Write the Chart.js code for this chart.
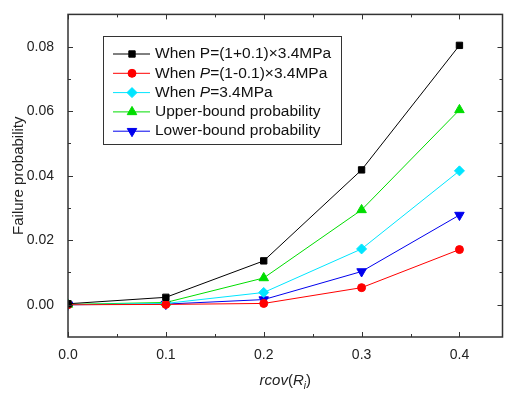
<!DOCTYPE html>
<html>
<head>
<meta charset="utf-8">
<script src="https://cdn.jsdelivr.net/npm/chart.js@4/dist/chart.umd.min.js"></script>
<style>
  body { margin: 0; background: #fff; }
  #wrap { width: 509px; height: 393px; }
</style>
</head>
<body>
<div id="wrap"><canvas id="myChart" width="509" height="393"></canvas></div>
<script>
// rcov(R_i) values on x
var rcov = [0.0, 0.1, 0.2, 0.3, 0.4];

// failure probability series
var pHigh = [0.0003, 0.0023, 0.0136, 0.0418, 0.0804];
var pLow = [0.0000, 0.0001, 0.0004, 0.0053, 0.0171];
var pMid = [0.0000, 0.0004, 0.0038, 0.0173, 0.0415];
var upperBound = [0.0001, 0.0007, 0.0083, 0.0294, 0.0604];
var lowerBound = [0.0000, 0.0002, 0.0016, 0.0103, 0.0278];

// legend names, *x* = italic
var seriesNames = [
  "When P=(1+0.1)\u00d73.4MPa",
  "When *P*=(1-0.1)\u00d73.4MPa",
  "When *P*=3.4MPa",
  "Upper-bound probability",
  "Lower-bound probability"
];

var xTicks = [0.0, 0.1, 0.2, 0.3, 0.4];
var yTicks = [0.00, 0.02, 0.04, 0.06, 0.08];

function pts(ys) {
  return rcov.map(function (x, i) { return { x: x, y: ys[i] }; });
}

function makeSet(name, ys, color, style, radius, rotation) {
  return {
    label: name,
    data: pts(ys),
    borderColor: color,
    backgroundColor: color,
    borderWidth: 1,
    pointStyle: style,
    pointRadius: radius,
    pointRotation: rotation || 0,
    pointBorderWidth: 1,
    tension: 0
  };
}

var FONT = "Arial, 'Liberation Sans', sans-serif";

// frame, inward ticks, axis titles and the boxed legend
var decorPlugin = {
  id: "decor",
  afterDraw: function (chart) {
    var ctx = chart.ctx;
    var a = chart.chartArea;
    var xs = chart.scales.x, ys = chart.scales.y;
    ctx.save();
    ctx.strokeStyle = "#333";
    ctx.lineWidth = 1.5;
    ctx.strokeRect(a.left, a.top, a.right - a.left, a.bottom - a.top);

    ctx.lineWidth = 1;
    var v, px, len;
    for (v = 0; v <= 0.44; v += 0.05) {
      px = Math.round(xs.getPixelForValue(v)) + 0.5;
      len = (Math.round(v * 100) % 10 === 0) ? 5 : 3;
      ctx.beginPath();
      ctx.moveTo(px, a.bottom); ctx.lineTo(px, a.bottom - len);
      ctx.moveTo(px, a.top); ctx.lineTo(px, a.top + len);
      ctx.stroke();
    }
    for (v = 0; v <= 0.0895; v += 0.01) {
      px = Math.round(ys.getPixelForValue(v)) + 0.5;
      len = (Math.round(v * 100) % 2 === 0) ? 5 : 3;
      ctx.beginPath();
      ctx.moveTo(a.left, px); ctx.lineTo(a.left + len, px);
      ctx.moveTo(a.right, px); ctx.lineTo(a.right - len, px);
      ctx.stroke();
    }

    // y title
    ctx.fillStyle = "#222";
    ctx.font = "15px " + FONT;
    ctx.textAlign = "center";
    ctx.textBaseline = "middle";
    ctx.save();
    ctx.translate(19, (a.top + a.bottom) / 2);
    ctx.rotate(-Math.PI / 2);
    ctx.fillText("Failure probability", 0, 0);
    ctx.restore();

    // x title: rcov(R_i)
    var parts = [["rcov", "italic 15px "], ["(", "15px "], ["R", "italic 15px "], ["i", "italic 10px "], [")", "15px "]];
    var total = 0;
    parts.forEach(function (p) { ctx.font = p[1] + FONT; total += ctx.measureText(p[0]).width; });
    var cx = (a.left + a.right) / 2 - total / 2;
    ctx.textAlign = "left";
    ctx.textBaseline = "alphabetic";
    parts.forEach(function (p) {
      ctx.font = p[1] + FONT;
      ctx.fillText(p[0], cx, p[0] === "i" ? 389 : 385);
      cx += ctx.measureText(p[0]).width;
    });

    // legend
    var lx = 103, ly = 36, lw = 238, lh = 108;
    ctx.fillStyle = "#fff";
    ctx.fillRect(lx, ly, lw, lh);
    ctx.strokeStyle = "#333";
    ctx.lineWidth = 1;
    ctx.strokeRect(lx + 0.5, ly + 0.5, lw, lh);
    chart.data.datasets.forEach(function (ds, i) {
      var yy = ly + 18 + i * 19.3;
      ctx.strokeStyle = ds.borderColor;
      ctx.lineWidth = 1;
      ctx.beginPath();
      ctx.moveTo(lx + 10, yy); ctx.lineTo(lx + 47, yy);
      ctx.stroke();
      ctx.fillStyle = ds.backgroundColor;
      Chart.helpers.drawPoint(ctx, {
        pointStyle: ds.pointStyle, radius: ds.pointRadius,
        rotation: ds.pointRotation, borderWidth: 1
      }, lx + 29, yy);
      var tx = lx + 52;
      ctx.fillStyle = "#111";
      ctx.textBaseline = "middle";
      ds.label.split("*").forEach(function (seg, k) {
        ctx.font = (k % 2 === 1 ? "italic " : "") + "15.5px " + FONT;
        ctx.fillText(seg, tx, yy);
        tx += ctx.measureText(seg).width;
      });
    });
    ctx.restore();
  }
};

var ctx = document.getElementById("myChart");
var myChart = new Chart(ctx, {
  type: "line",
  data: {
    datasets: [
      makeSet(seriesNames[0], pHigh, "#000000", "rect", 4.5),
      makeSet(seriesNames[1], pLow, "#ff0000", "circle", 4),
      makeSet(seriesNames[2], pMid, "#00e5ff", "rectRot", 5),
      makeSet(seriesNames[3], upperBound, "#00dd00", "triangle", 5.5),
      makeSet(seriesNames[4], lowerBound, "#0000ee", "triangle", 5.5, 180)
    ]
  },
  options: {
    responsive: false,
    animation: false,
    layout: { padding: { top: 4, right: 0, left: 0, bottom: 0 } },
    plugins: { legend: { display: false }, tooltip: { enabled: false } },
    scales: {
      x: {
        type: "linear",
        min: 0,
        max: 0.444,
        grid: { display: false },
        border: { display: false },
        afterBuildTicks: function (s) { s.ticks = xTicks.map(function (v) { return { value: v }; }); },
        afterFit: function (s) { s.height = 56; },
        ticks: {
          color: "#222",
          font: { family: FONT, size: 14 },
          padding: 2,
          maxRotation: 0,
          callback: function (v) { return v.toFixed(1); }
        }
      },
      y: {
        min: -0.01,
        max: 0.09,
        grid: { display: false },
        border: { display: false },
        afterBuildTicks: function (s) { s.ticks = yTicks.map(function (v) { return { value: v }; }); },
        afterFit: function (s) { s.width = 68; },
        ticks: {
          color: "#222",
          font: { family: FONT, size: 14 },
          padding: 6,
          callback: function (v) { return v.toFixed(2); }
        }
      }
    }
  },
  plugins: [decorPlugin]
});
</script>
</body>
</html>
